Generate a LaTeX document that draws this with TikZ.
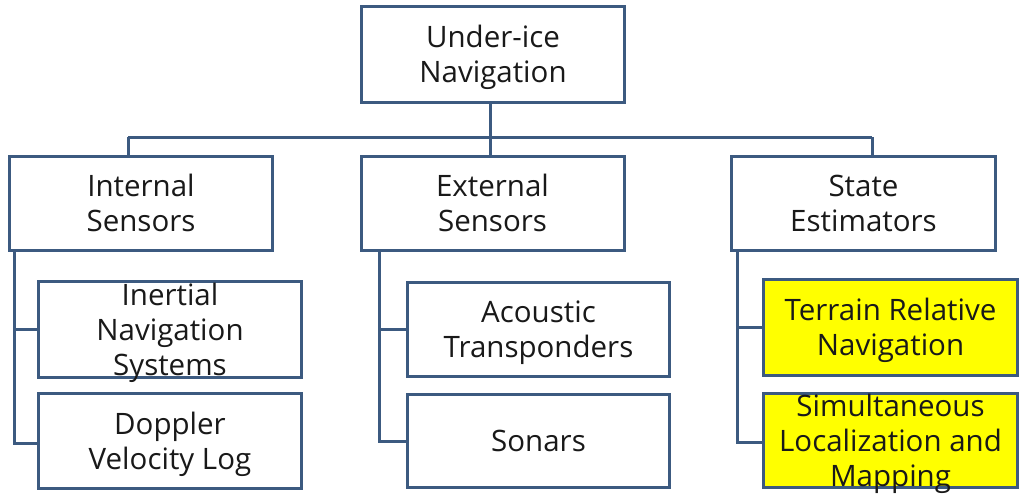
\documentclass[tikz,border=0pt]{standalone}
\usepackage{fontspec}
\setmainfont{Open Sans}
\definecolor{navline}{RGB}{60,90,128}
\definecolor{hiyel}{RGB}{255,255,0}

\begin{document}
\begin{tikzpicture}[x=1pt,y=-1pt,
  box/.style 2 args={draw=navline,line width=3pt,fill=white,inner sep=0pt,text=black!90,
    execute at begin node={\begin{minipage}[c][#2pt][c]{#1pt}\centering\fontsize{29.5}{35}\selectfont\rule{0pt}{29pt}},
    execute at end node={\rule[-8pt]{0pt}{8pt}\end{minipage}}},
  hl/.style={fill=hiyel},
  link/.style={draw=navline,line width=3pt}]
\clip (0,0) rectangle (1019,496);
\fill[white] (0,0) rectangle (1019,496);

% top of the tree
\node[box={263}{96}] (nav) at (493,54.5) {Under-ice\\Navigation};

% second row
\node[box={263}{94}] (int) at (141,203.5) {Internal\\Sensors};
\node[box={263}{94}] (ext) at (492.5,203) {External\\Sensors};
\node[box={264}{94}] (st) at (863.5,203) {State\\Estimators};

% third row
\node[box={263}{96}] (ins) at (170,329.5) {Inertial\\Navigation\\Systems};
\node[box={263}{95}] (dvl) at (170,441) {Doppler\\Velocity Log};
\node[box={262}{94}] (act) at (538.5,329.5) {Acoustic\\Transponders};
\node[box={262}{93}] (son) at (538.5,441) {Sonars};
\node[box={254}{96},hl] (trn) at (890.5,327.5) {Terrain Relative\\Navigation};
\node[box={254}{94},hl] (slam) at (890.5,440.5) {Simultaneous\\Localization and\\Mapping};

% bus between first and second row
\coordinate (bus) at (490,137);
\coordinate (busL) at (128,137);
\coordinate (busR) at (872,137);
\draw[link] (nav.south -| bus) -- (bus);
\draw[link] (busL) -- (busR);
\draw[link] (busL) -- (busL |- int.north);
\draw[link] (bus) -- (bus |- ext.north);
\draw[link] (busR) -- (busR |- st.north);

% branches down to the third row
\draw[link] ([xshift=6pt]int.south west) |- (ins.west);
\draw[link] ([xshift=6pt]int.south west) |- ([yshift=-2pt]dvl.west);
\draw[link] ([xshift=20pt]ext.south west) |- (act.west);
\draw[link] ([xshift=20pt]ext.south west) |- (son.west);
\draw[link] ([xshift=7pt]st.south west) |- (trn.west);
\draw[link] ([xshift=7pt]st.south west) |- ([yshift=-2pt]slam.west);
\end{tikzpicture}
\end{document}
